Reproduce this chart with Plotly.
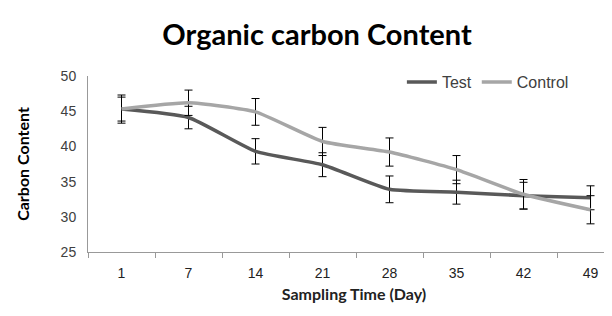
import plotly.graph_objects as go

days = ["1", "7", "14", "21", "28", "35", "42", "49"]
test_vals = [45.3, 44.1, 39.3, 37.4, 33.9, 33.5, 33.0, 32.7]
test_err = [2.0, 1.6, 1.8, 1.7, 1.9, 1.7, 1.9, 1.7]
control_vals = [45.3, 46.2, 44.9, 40.7, 39.2, 36.7, 33.2, 31.0]
control_err = [1.7, 1.8, 1.9, 2.0, 2.0, 2.0, 2.1, 2.0]

fig = go.Figure()
fig.add_trace(go.Scatter(
    x=days, y=test_vals, name="Test", mode="lines",
    line=dict(color="#595959", width=3.5, shape="spline", smoothing=0.5),
    error_y=dict(type="data", array=test_err, visible=True, color="#000000", thickness=1, width=4),
))
fig.add_trace(go.Scatter(
    x=days, y=control_vals, name="Control", mode="lines",
    line=dict(color="#a6a6a6", width=3.5, shape="spline", smoothing=0.5),
    error_y=dict(type="data", array=control_err, visible=True, color="#000000", thickness=1, width=4),
))

fig.update_layout(
    width=612, height=316,
    paper_bgcolor="white", plot_bgcolor="white",
    margin=dict(l=80, r=0, t=68, b=72),
    title=dict(text="<b>Organic carbon Content</b>", x=0.505, xanchor="center", y=0.915, yanchor="middle",
               font=dict(family="Lato", size=29, color="#000000")),
    legend=dict(orientation="h", x=0.59, y=0.965, xanchor="left", yanchor="middle",
                font=dict(family="Liberation Sans, Arial", size=16, color="#404040"),
                bgcolor="rgba(0,0,0,0)", itemwidth=30, tracegroupgap=0),
    showlegend=True,
)
fig.update_xaxes(
    type="category", range=[-0.5, 7.44],
    showline=True, linecolor="#999999", linewidth=1,
    ticks="outside", tickson="boundaries", ticklen=5, tickcolor="#999999",
    showgrid=False, zeroline=False,
    tickfont=dict(family="Liberation Sans, Arial", size=14, color="#222222"),
    ticklabelstandoff=8,
    title=dict(text="<b>Sampling Time (Day)</b>", font=dict(family="Lato", size=16, color="#222222"), standoff=9),
)
fig.update_yaxes(
    range=[25, 50], dtick=5,
    showline=True, linecolor="#999999", linewidth=1,
    ticks="", showgrid=False, zeroline=False,
    tickfont=dict(family="Liberation Sans, Arial", size=14, color="#404040"),
    ticklabelstandoff=8,
    title=dict(text="<b>Carbon Content</b>", font=dict(family="Lato", size=16, color="#000000"), standoff=27),
)

fig.write_html("out.html")
